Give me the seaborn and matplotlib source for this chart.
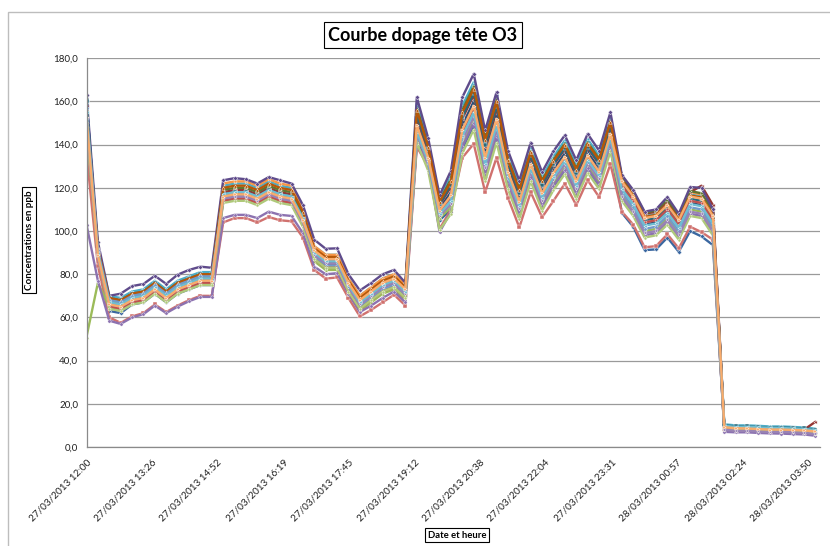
import matplotlib
matplotlib.use("Agg")
import matplotlib.pyplot as plt
import seaborn as sns
import pandas as pd
from matplotlib.patches import Rectangle

# ---------------- data ----------------
start_time = "2013-03-27 12:00"
step = "15min"
n_points = 65

tick_labels = ["27/03/2013 12:00", "27/03/2013 13:26", "27/03/2013 14:52", "27/03/2013 16:19",
               "27/03/2013 17:45", "27/03/2013 19:12", "27/03/2013 20:38", "27/03/2013 22:04",
               "27/03/2013 23:31", "28/03/2013 00:57", "28/03/2013 02:24", "28/03/2013 03:50"]
y_ticks = [0, 20, 40, 60, 80, 100, 120, 140, 160, 180]
y_tick_labels = ["0,0", "20,0", "40,0", "60,0", "80,0", "100,0", "120,0", "140,0", "160,0", "180,0"]

s01 = [160, 89, 63, 62, 66, 67, 71, 67, 71, 73, 75, 75,
       114, 115, 115, 113, 116, 114, 113, 103,
       88, 84, 84, 73, 65, 69, 73, 75, 70,
       141, 133, 105, 110, 138, 149, 125, 143, 121, 107, 124.5, 111, 120.5, 128, 116.5, 128.5, 121, 138.5,
       108.5, 102, 91.2, 91.5, 97, 90.4, 100, 97.5, 93.5,
       8.5, 8, 8, 7.8, 7.5, 7.4, 7.2, 7, 6.5]
s02 = [136, 84, 60, 57.5, 60.5, 62, 66, 62.5, 65.5, 68, 70, 70,
       104, 106, 106, 104, 106.5, 105, 104.5, 97,
       82, 78, 78.5, 69, 60.5, 63.5, 67, 70.5, 65.5,
       139, 130, 101, 110, 134, 140.4, 118, 134, 115.5, 101.7, 118, 106.4, 114, 122, 112, 123.6, 115.8, 131,
       109, 103, 92.5, 93, 98.5, 92, 102, 99.5, 96,
       8.2, 7.5, 7.5, 7.2, 7, 7, 6.8, 6.6, 6]
s03 = [51, 76, 65, 64, 67, 68, 72, 68, 72, 74, 76, 76,
       115, 116, 116, 114, 117, 115, 114, 104,
       86, 82, 82, 71, 63, 67, 71, 73, 68,
       143, 134, 106, 111, 140, 151, 127, 145, 122.5, 108.5, 126, 112.5, 122, 129.5, 118, 130, 122.5, 140,
       117, 110, 100, 101, 106, 99, 110, 109, 101,
       8.5, 8, 8, 7.7, 7.5, 7.5, 7.3, 7.1, 6.5]
s04 = [103, 77, 58.5, 57, 60, 61.5, 65.5, 62, 65, 67.5, 69.5, 69.5,
       106, 107.5, 107.5, 106, 109, 107.5, 107, 99,
       83.5, 80, 80.5, 71, 62.5, 65.5, 69, 72, 67,
       140, 131, 99.5, 109, 139, 150, 126, 144, 121.5, 107.5, 125, 111.5, 121, 128.5, 117, 129, 121.5, 139,
       115, 108, 98, 99, 104, 97, 108, 107, 99,
       7, 6.8, 6.8, 6.5, 6.3, 6.2, 6, 5.8, 5.2]
s05 = [159, 93, 70, 69, 72, 73, 77, 73, 77, 79, 81, 81,
       121, 122, 122, 120, 123, 121, 120, 110,
       93, 89, 89, 78, 70, 74, 78, 80, 75,
       159, 141, 115, 125.5, 158, 169, 145, 163, 135, 121, 138.5, 125, 134.5, 142, 130.5, 142.5, 135, 152.5,
       124, 117, 107, 108, 113, 106, 117, 116, 108,
       10.5, 10, 10, 9.8, 9.5, 9.5, 9.3, 9, 8.5]
s06 = [154, 91, 68, 67, 70, 71, 75, 71, 75, 77, 79, 79,
       122, 123, 123, 121, 124, 122, 121, 111,
       93, 89, 89, 78, 70, 74, 78, 80, 75,
       155, 138.5, 113, 122, 154, 165, 141, 159, 132.5, 118.5, 136, 122.5, 132, 139.5, 128, 140, 132.5, 150,
       125, 118, 108, 109, 114, 107, 118, 117, 109,
       9, 8.5, 8.5, 8.2, 8, 8, 7.8, 7.6, 7]
s07 = [161, 90, 65, 64, 67, 68, 72, 68, 72, 74, 76, 76,
       116, 117, 117, 115, 118, 116, 115, 105,
       89, 85, 85, 74, 66, 70, 74, 76, 71,
       150, 135.5, 110.5, 118, 149, 160, 136, 154, 129, 115, 132.5, 119, 128.5, 136, 124.5, 136.5, 129, 146.5,
       120, 113, 103, 104, 109, 102, 113, 112, 104,
       9, 8.3, 8.3, 8, 7.8, 7.8, 7.6, 7.4, 6.8]
s08 = [158, 90, 66, 65, 68, 69, 73, 69, 73, 75, 77, 77,
       118, 119, 119, 117, 120, 118, 117, 107,
       90, 86, 86, 75, 67, 71, 75, 77, 72,
       153, 137, 112, 120.5, 152, 163, 139, 157, 131, 117, 134.5, 121, 130.5, 138, 126.5, 138.5, 131, 148.5,
       125, 118, 108, 109, 114, 107, 118, 121, 112,
       9, 8.5, 8.5, 8.2, 8, 8, 7.8, 8, 11.7]
s09 = [150, 89, 67, 66, 69, 70, 74, 70, 74, 76, 78, 78,
       119, 120, 120, 118, 121, 119, 118, 108,
       91, 87, 87, 76, 68, 72, 76, 78, 73,
       157, 139.5, 114, 124, 156, 167, 143, 161, 133.5, 119.5, 137, 123.5, 133, 140.5, 129, 141, 133.5, 151,
       125.5, 118.5, 108.5, 109.5, 114.5, 107.5, 118.5, 117.5, 109.5,
       8.5, 8.2, 8.2, 7.9, 7.7, 7.7, 7.5, 7.3, 6.8]
s10 = [163, 95, 70, 71, 74.5, 75.5, 79.3, 75.5, 79.8, 82, 83.5, 83,
       123.5, 124.5, 124, 122, 125, 123.5, 122, 112,
       96, 91.8, 92, 80, 72.5, 76, 80, 82, 76,
       162, 143, 116.5, 128, 162, 172.8, 146.6, 164.3, 137.3, 123.4, 141, 127.3, 137, 144.4, 132.8, 145, 137.3, 155,
       126, 119, 109, 110, 115.8, 108, 120.4, 120, 110,
       9, 8.3, 8.2, 8, 7.8, 7.6, 7.5, 7.2, 6.6]
s11 = [160, 91, 69, 68, 71, 72, 76, 72, 76, 78, 80, 80,
       117, 118, 118, 116, 119, 117, 116, 106,
       91, 87, 87, 76, 68, 72, 76, 78, 73,
       154, 138, 112.5, 121.5, 153, 164, 140, 158, 131.5, 117.5, 135, 121.5, 131, 138.5, 127, 139, 131.5, 149,
       122, 115, 105, 106, 111, 104, 115, 114, 106,
       10, 9.5, 9.5, 9.2, 9, 9, 8.8, 8.6, 8]
s12 = [156, 92, 69, 68, 71, 72, 76, 72, 76, 78, 80, 80,
       120, 121, 121, 119, 122, 120, 119, 109,
       92, 88, 88, 77, 69, 73, 77, 79, 74,
       156, 139, 113.5, 123, 155, 166, 142, 160, 133, 119, 136.5, 123, 132.5, 140, 128.5, 140.5, 133, 150.5,
       123.5, 116.5, 106.5, 107.5, 112.5, 105.5, 116.5, 115.5, 107.5,
       8.5, 8, 8, 7.8, 7.5, 7.5, 7.3, 7.1, 6.5]
s13 = [157, 91, 68, 67, 70, 71, 75, 71, 75, 77, 79, 79,
       115, 116, 116, 114, 117, 115, 114, 104,
       88, 84, 84, 73, 65, 69, 73, 75, 70,
       147, 133, 108.5, 115, 145, 156, 132, 150, 126, 112, 129.5, 116, 125.5, 133, 121.5, 133.5, 126, 143.5,
       118, 111, 101, 102, 107, 100, 111, 110, 102,
       9, 8.5, 8.5, 8.2, 8, 8, 7.8, 7.6, 7]
s14 = [150, 88, 65, 64, 67, 68, 72, 68, 72, 74, 76, 76,
       114, 115, 115, 113, 116, 114, 113, 103,
       87, 83, 83, 72, 64, 68, 72, 74, 69,
       148, 133.5, 109, 116, 146, 157, 133, 151, 126.5, 112.5, 130, 116.5, 126, 133.5, 122, 134, 126.5, 144,
       121, 114, 104, 105, 110, 103, 114, 113, 105,
       8.5, 8, 8, 7.7, 7.5, 7.5, 7.3, 7.1, 6.5]
s15 = [148, 88, 64, 63, 66, 67, 71, 67, 71, 73, 75, 75,
       113, 114, 114, 112, 115, 113, 112, 102,
       87, 83, 83, 72, 64, 68, 72, 74, 69,
       141, 128, 100.5, 108, 136, 147, 123, 141, 119.5, 105.5, 123, 109.5, 119, 126.5, 115, 127, 119.5, 137,
       114, 107, 97, 98, 103, 96, 107, 106, 98,
       8.2, 7.8, 7.8, 7.5, 7.3, 7.3, 7.1, 6.9, 6.2]
s16 = [152, 88, 66, 65, 68, 69, 73, 69, 73, 75, 77, 77,
       115, 116, 116, 114, 117, 115, 114, 104,
       89, 85, 85, 74, 66, 70, 74, 76, 71,
       145, 131, 107, 112.5, 142, 153, 129, 147, 124, 110, 127.5, 114, 123.5, 131, 119.5, 131.5, 124, 141.5,
       116, 109, 99, 100, 105, 98, 109, 108, 100,
       8, 7.5, 7.5, 7.2, 7, 7, 6.8, 6.6, 6]
s17 = [155, 90, 67, 66, 69, 70, 74, 70, 74, 76, 78, 78,
       117, 118, 118, 116, 119, 117, 116, 106,
       90, 86, 86, 75, 67, 71, 75, 77, 72,
       146, 132.5, 108, 114, 144, 155, 131, 149, 125.5, 111.5, 129, 115.5, 125, 132.5, 121, 133, 125.5, 143,
       119.5, 112.5, 102.5, 103.5, 108.5, 101.5, 112.5, 111.5, 103.5,
       9.8, 9.3, 9.4, 9.1, 8.9, 8.8, 8.6, 8.4, 7.8]
s18 = [153, 89, 66, 65, 68, 69, 73, 69, 73, 75, 77, 77,
       116, 117, 117, 115, 118, 116, 115, 105,
       91, 87, 87, 76, 68, 72, 76, 78, 73,
       149, 134, 109.5, 116.5, 147, 158, 134, 152, 127.5, 113.5, 131, 117.5, 127, 134.5, 123, 135, 127.5, 145,
       123, 116, 106, 107, 112, 105, 116, 115, 107,
       9.2, 8.7, 8.6, 8.3, 8.1, 8.1, 7.9, 7.7, 7.2]

series_values = [s01, s02, s03, s04, s05, s06, s07, s08, s09,
                 s10, s11, s12, s13, s14, s15, s16, s17, s18]
series_names = [f"Série {i}" for i in range(1, 19)]
series_colors = ["#3A67A0", "#D0716E", "#9BBB59", "#8C72B0", "#4BACC6", "#F79646",
                 "#2C4D75", "#953735", "#5F7530", "#5F4B8B", "#276A7C", "#B65708",
                 "#729ACA", "#C0504D", "#AFC97A", "#9983B5", "#6FBDD1", "#F9AB6B"]
series_markers = ["D", "s", "^", "o", "p", "h", "v", "<", ">", "D", "s", "^",
                  "o", "p", "h", "v", "<", ">"]

# ---------------- figure ----------------
W, H = 830, 546
sns.set_style("white")
plt.rcParams["font.family"] = ["Lato", "DejaVu Sans"]

times = pd.date_range(start_time, periods=n_points, freq=step)
frames = []
for name, vals in zip(series_names, series_values):
    frames.append(pd.DataFrame({"time": times, "value": vals, "serie": name}))
df = pd.concat(frames, ignore_index=True)

fig = plt.figure(figsize=(W / 100, H / 100), dpi=100)
fig.patch.set_facecolor("white")

def fx(x):
    return x / W

def fy(y):
    return 1 - y / H

ax_left, ax_right, ax_top, ax_bottom = 86.5, 820, 58.3, 447
ax = fig.add_axes([fx(ax_left), fy(ax_bottom), (ax_right - ax_left) / W, (ax_bottom - ax_top) / H])

sns.lineplot(data=df, x="time", y="value", hue="serie", style="serie",
             palette=dict(zip(series_names, series_colors)),
             markers=dict(zip(series_names, series_markers)), dashes=False,
             linewidth=1.7, markersize=2.4, markeredgewidth=0.3,
             legend=False, ax=ax, estimator=None, sort=False)

tick_pos = pd.to_datetime(tick_labels, format="%d/%m/%Y %H:%M")
ax.set_xlim(times[0], times[0] + pd.Timedelta(minutes=966))
ax.set_ylim(0, 180)
ax.set_xticks(tick_pos)
ax.set_xticklabels(tick_labels, rotation=45, ha="right", va="top",
                   rotation_mode="anchor", fontsize=7.2, color="#202020")
ax.set_yticks(y_ticks)
ax.set_yticklabels(y_tick_labels, fontsize=7, color="#202020")
ax.set_xlabel("")
ax.set_ylabel("")

ax.yaxis.grid(True, color="#9A9A9A", linewidth=0.9)
ax.xaxis.grid(False)
ax.set_axisbelow(True)
for side in ["top", "right"]:
    ax.spines[side].set_visible(False)
for side in ["left", "bottom"]:
    ax.spines[side].set_color("#8A8A8A")
    ax.spines[side].set_linewidth(0.9)
ax.tick_params(axis="both", which="major", direction="out", length=4, width=0.8,
               color="#8A8A8A", pad=2)
ax.tick_params(axis="x", pad=4)

# outer chart border
fig.add_artist(Rectangle((fx(8), -0.2), 1.2, fy(12) + 0.2, transform=fig.transFigure,
                         fill=False, edgecolor="#BDBDBD", linewidth=1.0))

# title and axis titles in boxes
fig.text(fx(423), fy(35), "Courbe dopage tête O3", ha="center", va="center",
         fontsize=13, fontweight="bold", color="black",
         bbox=dict(boxstyle="square,pad=0.25", facecolor="white", edgecolor="black", linewidth=0.8))
fig.text(fx(29), fy(240), "Concentrations en ppb", ha="center", va="center", rotation=90,
         fontsize=7, fontweight="bold", color="black",
         bbox=dict(boxstyle="square,pad=0.3", facecolor="white", edgecolor="black", linewidth=0.8))
fig.text(fx(457), fy(535), "Date et heure", ha="center", va="center",
         fontsize=6.8, fontweight="bold", color="black",
         bbox=dict(boxstyle="square,pad=0.3", facecolor="white", edgecolor="black", linewidth=0.8))

fig.savefig("out.png", dpi=100, facecolor="white")
